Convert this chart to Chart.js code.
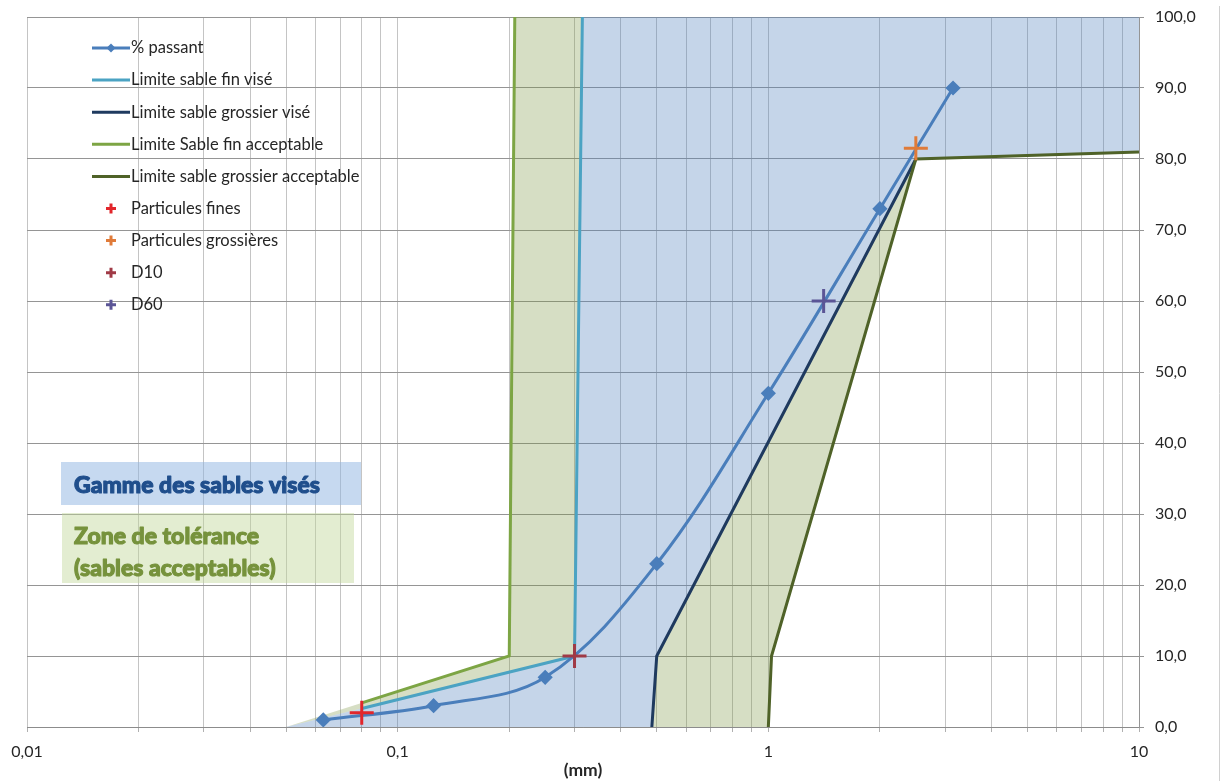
<!DOCTYPE html>
<html><head><meta charset="utf-8">
<script src="https://cdn.jsdelivr.net/npm/chart.js@4.4.1/dist/chart.umd.min.js"></script>
<style>html,body{margin:0;padding:0;background:#fff;overflow:hidden}#wrap{width:1223px;height:781px}</style>
</head><body><div id="wrap"><canvas id="c" width="1223" height="781"></canvas></div>
<script>
// ---------- DATA ----------
const passantX = [0.063, 0.125, 0.25, 0.5, 1, 2, 3.15];
const passantY = [1, 3, 7, 23, 47, 73, 90];

const fineViseX = [0.08, 0.3, 0.315];
const fineViseY = [2.6, 10, 100];
const grossierViseX = [0.485, 0.5, 2.5];
const grossierViseY = [0, 10, 80];
const fineAccX = [0.08, 0.2, 0.207];
const fineAccY = [3.4, 10, 100];
const grossierAccX = [1, 1.02, 2.5, 10];
const grossierAccY = [0, 10, 80, 81];

const finesX = [0.08], finesY = [2];
const grossieresX = [2.5], grossieresY = [81.5];
const d10X = [0.3], d10Y = [10];
const d60X = [1.41], d60Y = [60];

// filled zones (polygon vertices)
const zoneViseeX = [0.05, 0.3, 0.315, 10, 10, 2.5, 0.5, 0.485];
const zoneViseeY = [0, 10, 100, 100, 81, 80, 10, 0];
const tolFinX = [0.05, 0.2, 0.207, 0.315, 0.3];
const tolFinY = [0, 10, 100, 100, 10];
const tolGrossierX = [0.485, 0.5, 2.5, 1.02, 1];
const tolGrossierY = [0, 10, 80, 10, 0];

const xMajorValues = [0.01, 0.1, 1, 10];
const xTickLabels = ['0,01', '0,1', '1', '10'];
const xTitle = '(mm)';
const seriesLabels = ['% passant', 'Limite sable fin visé', 'Limite sable grossier visé',
  'Limite Sable fin acceptable', 'Limite sable grossier acceptable',
  'Particules fines', 'Particules grossières', 'D10', 'D60'];
const boxBlueText = ['Gamme des sables visés'];
const boxGreenText = ['Zone de tolérance', '(sables acceptables)'];

// ---------- HELPERS ----------
const zip = (xs, ys) => xs.map((x, i) => ({x, y: ys[i]}));
const xGridValues = [];
for (let e = -2; e <= 0; e++) for (let m = 1; m <= 9; m++) xGridValues.push(+(m * Math.pow(10, e)).toPrecision(3));
xGridValues.push(10);

const FONT = 'Lato, "Open Sans", "Noto Sans", sans-serif';
Chart.defaults.font.family = FONT;
Chart.defaults.font.size = 16;
Chart.defaults.color = '#262626';

const lineDs = (label, data, color, order) => ({
  label, data, borderColor: color, backgroundColor: color, borderWidth: 3,
  pointRadius: 0, pointHoverRadius: 0, fill: false, tension: 0, order, kind: 'line'
});
const crossDs = (label, data, color) => ({
  label, data, showLine: false, pointStyle: 'cross', pointRadius: 12, pointHoverRadius: 12,
  pointBorderWidth: 3, pointBorderColor: color, borderColor: color, backgroundColor: color,
  order: 0, kind: 'cross'
});
const fillDs = (data, color) => ({
  label: '', data, fill: 'shape', backgroundColor: color, borderColor: 'rgba(0,0,0,0)',
  borderWidth: 1, pointRadius: 0, pointHoverRadius: 0, tension: 0, order: 20, legend: false
});

const datasets = [
  {label: seriesLabels[0], data: zip(passantX, passantY), borderColor: '#4A7EBB', backgroundColor: '#4A7EBB',
   pointBorderColor: '#4A7EBB', pointBackgroundColor: '#4A7EBB', borderWidth: 3, pointStyle: 'rectRot',
   pointRadius: 5.5, pointHoverRadius: 5.5, tension: 0.35, fill: false, order: 1, kind: 'diamond'},
  lineDs(seriesLabels[1], zip(fineViseX, fineViseY), '#4BA3C3', 3),
  lineDs(seriesLabels[2], zip(grossierViseX, grossierViseY), '#1F3A5F', 3),
  lineDs(seriesLabels[3], zip(fineAccX, fineAccY), '#7DA544', 4),
  lineDs(seriesLabels[4], zip(grossierAccX, grossierAccY), '#4F6228', 2),
  crossDs(seriesLabels[5], zip(finesX, finesY), '#E2262B'),
  crossDs(seriesLabels[6], zip(grossieresX, grossieresY), '#E07B39'),
  crossDs(seriesLabels[7], zip(d10X, d10Y), '#A03A46'),
  crossDs(seriesLabels[8], zip(d60X, d60Y), '#5B5596'),
  fillDs(zip(zoneViseeX, zoneViseeY), 'rgba(79,129,189,0.33)'),
  fillDs(zip(tolFinX, tolFinY), 'rgba(119,147,60,0.30)'),
  fillDs(zip(tolGrossierX, tolGrossierY), 'rgba(119,147,60,0.30)')
];

// ---------- PLUGINS ----------
const boldText = (ctx, txt, x, y, color) => {
  ctx.fillStyle = color; ctx.strokeStyle = color; ctx.lineWidth = 1.1; ctx.lineJoin = 'round';
  ctx.strokeText(txt, x, y); ctx.fillText(txt, x, y);
};
const boxesPlugin = {
  id: 'boxes',
  afterDatasetsDraw(chart) {
    const ctx = chart.ctx;
    ctx.save();
    ctx.textBaseline = 'alphabetic';
    ctx.font = '900 23px ' + FONT;
    // blue box
    const bx = 61, by = 462;
    ctx.fillStyle = 'rgba(141,180,226,0.5)';
    ctx.fillRect(bx, by, 300, 43);
    boldText(ctx, boxBlueText[0], bx + 13, by + 31, '#1F4E8C');
    // green box
    const gx = 62, gy = 513;
    ctx.fillStyle = 'rgba(194,214,154,0.45)';
    ctx.fillRect(gx, gy, 292, 70);
    boldText(ctx, boxGreenText[0], gx + 12, gy + 31, '#76923C');
    boldText(ctx, boxGreenText[1], gx + 12, gy + 63, '#76923C');
    ctx.restore();
  }
};

const customLegend = {
  id: 'customLegend',
  afterDraw(chart) {
    const ctx = chart.ctx;
    ctx.save();
    const x0 = 92, x1 = 130, tx = 131, y0 = 48, dy = 32.1;
    let row = 0;
    chart.data.datasets.forEach(ds => {
      if (ds.legend === false) return;
      const y = y0 + row * dy;
      const c = ds.borderColor;
      if (ds.kind === 'line' || ds.kind === 'diamond') {
        ctx.strokeStyle = c; ctx.lineWidth = 3;
        ctx.beginPath(); ctx.moveTo(x0, y); ctx.lineTo(x1, y); ctx.stroke();
        if (ds.kind === 'diamond') {
          const r = 4.5, cx = (x0 + x1) / 2;
          ctx.fillStyle = c;
          ctx.beginPath(); ctx.moveTo(cx, y - r); ctx.lineTo(cx + r, y); ctx.lineTo(cx, y + r); ctx.lineTo(cx - r, y);
          ctx.closePath(); ctx.fill();
        }
      } else {
        const r = 5, cx = 111;
        ctx.strokeStyle = c; ctx.lineWidth = 3;
        ctx.beginPath(); ctx.moveTo(cx - r, y); ctx.lineTo(cx + r, y);
        ctx.moveTo(cx, y - r); ctx.lineTo(cx, y + r); ctx.stroke();
      }
      ctx.fillStyle = '#262626';
      ctx.font = '16.5px ' + FONT;
      ctx.textBaseline = 'middle';
      ctx.fillText(ds.label, tx, y);
      row++;
    });
    // outer chart border (right)
    ctx.strokeStyle = '#D0D0D0'; ctx.lineWidth = 1;
    ctx.beginPath(); ctx.moveTo(1219.5, 6); ctx.lineTo(1219.5, 781); ctx.stroke();
    ctx.restore();
  }
};

// ---------- CHART ----------
new Chart(document.getElementById('c'), {
  type: 'line',
  data: {datasets},
  options: {
    responsive: false,
    animation: false,
    events: [],
    layout: {padding: {left: 27, top: 17, right: 0, bottom: 0}},
    plugins: {legend: {display: false}, tooltip: {enabled: false}},
    scales: {
      x: {
        type: 'logarithmic', min: 0.01, max: 10, position: 'bottom',
        afterBuildTicks: s => { s.ticks = xGridValues.map(v => ({value: v, major: xMajorValues.includes(v)})); },
        afterFit: s => { s.height = 54; s.paddingLeft = 0; s.paddingRight = 0; },
        ticks: {
          autoSkip: false, maxRotation: 0, minRotation: 0, padding: 10, color: '#262626', font: {size: 16},
          callback: (v) => {
            const i = xMajorValues.findIndex(m => Math.abs(m - v) / m < 1e-6);
            return i >= 0 ? xTickLabels[i] : '';
          }
        },
        grid: {color: '#C4C4C4', lineWidth: 1, tickLength: 5, tickColor: '#B0B0B0'},
        border: {color: '#8C8C8C', width: 1},
        title: {display: true, text: xTitle, color: '#262626', font: {size: 17.5, weight: 'bold'}, padding: {top: 0, bottom: 0}}
      },
      y: {
        type: 'linear', position: 'right', min: 0, max: 100,
        afterFit: s => { s.width = 84; s.paddingTop = 0; s.paddingBottom = 0; },
        ticks: {stepSize: 10, padding: 11, color: '#262626', font: {size: 16},
          callback: v => v.toFixed(1).replace('.', ',')},
        grid: {color: '#959595', lineWidth: 1, tickLength: 5, tickColor: '#959595'},
        border: {color: '#959595', width: 1}
      }
    }
  },
  plugins: [boxesPlugin, customLegend]
});
</script></body></html>
